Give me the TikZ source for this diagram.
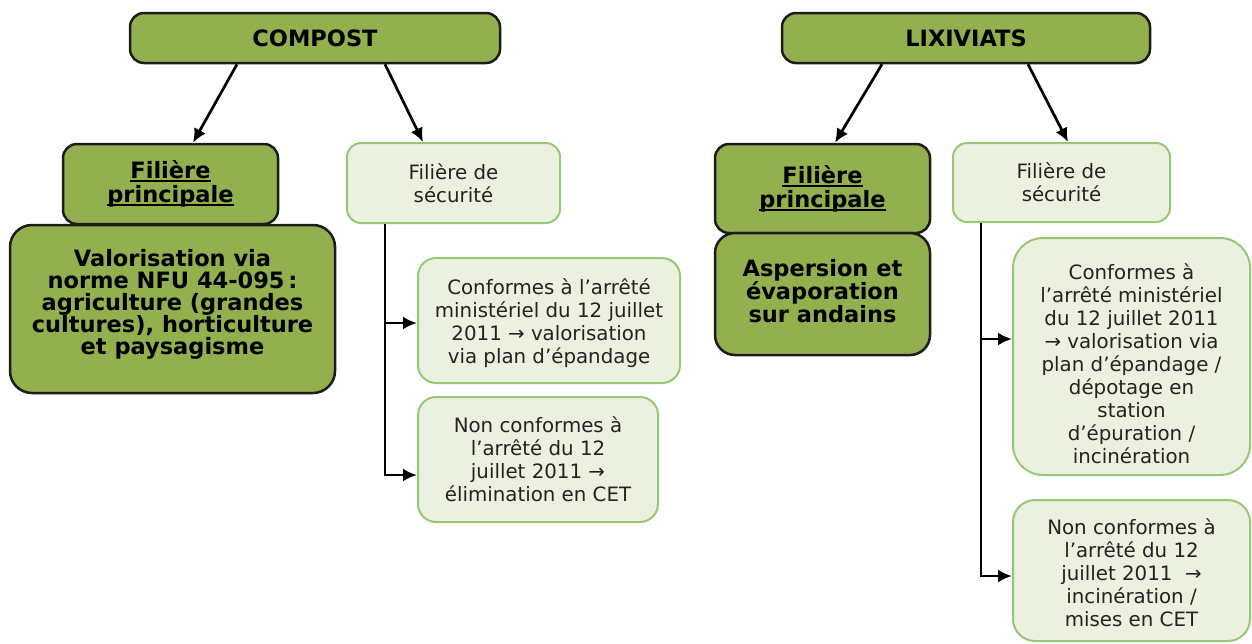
\documentclass[tikz,border=0pt]{standalone}
\usepackage{fontspec}
\setmainfont{DejaVu Sans}
\usetikzlibrary{arrows.meta,calc}
\definecolor{dkgreen}{RGB}{146,176,78}
\definecolor{ltfill}{RGB}{235,241,222}
\definecolor{ltborder}{RGB}{150,200,120}
\definecolor{dkborder}{RGB}{28,28,28}
\definecolor{txtgray}{RGB}{35,35,35}
\newcommand{\thickul}[1]{\setbox0\hbox{#1}\leavevmode\rlap{\rule[-3.8pt]{\wd0}{2pt}}\box0}
\tikzset{
 darkbox/.style={draw=dkborder, line width=2.5pt, fill=dkgreen, rounded corners=14pt, align=center, inner sep=0pt, font=\fontsize{22.5}{23}\selectfont\bfseries},
 lightbox/.style={draw=ltborder, line width=2pt, fill=ltfill, rounded corners=14pt, align=center, inner sep=0pt, font=\fontsize{19.8}{23}\selectfont, text=txtgray},
 conn/.style={line width=2.7pt, draw=black},
 arr/.style={conn, -{Latex[length=14pt,width=13pt]}},
}
\begin{document}
\begin{tikzpicture}[x=1pt,y=-1pt]
\useasboundingbox (0,0) rectangle (1252,643);
% COMPOST side
\node[darkbox, minimum width=370pt, minimum height=50pt] (compost) at (315,38) {COMPOST};
\node[darkbox, minimum width=215pt, minimum height=80pt] (fp1) at (170.5,184) {\thickul{Filière}\\[1pt]\thickul{principale}};
\node[darkbox, rounded corners=22pt, minimum width=325pt, minimum height=168pt] (val) at (172.5,309) {Valorisation via\\[-1pt]norme NFU 44-095\,:\\[-1pt]agriculture (grandes\\[-1pt]cultures), horticulture\\[-1pt]et paysagisme\\[-9pt]};
\node[lightbox, minimum width=213pt, minimum height=80pt] (fs1) at (453.5,183) {Filière de\\sécurité};
\node[lightbox, rounded corners=18pt, minimum width=262pt, minimum height=125pt] (c1) at (549,320.5) {\mbox{}\\[-1pt]Conformes à l’arrêté\\ministériel du 12 juillet\\2011 → valorisation\\via plan d’épandage};
\node[lightbox, rounded corners=18pt, minimum width=240pt, minimum height=125pt] (n1) at (538,459.5) {Non conformes à\\l’arrêté du 12\\juillet 2011 →\\élimination en CET};
% LIXIVIATS side
\node[darkbox, minimum width=368pt, minimum height=50pt] (lix) at (966,38) {LIXIVIATS};
\node[darkbox, minimum width=215pt, minimum height=89pt] (fp2) at (822.5,188.5) {\thickul{Filière}\\[1pt]\thickul{principale}};
\node[darkbox, rounded corners=20pt, minimum width=215pt, minimum height=122pt] (asp) at (822.5,294) {Aspersion et\\évaporation\\sur andains\\[-17pt]};
\node[lightbox, minimum width=217pt, minimum height=79pt] (fs2) at (1061.5,182.5) {Filière de\\sécurité};
\node[lightbox, rounded corners=30pt, minimum width=237pt, minimum height=237pt] (c2) at (1131.5,356.5) {\mbox{}\\[7pt]Conformes à\\l’arrêté ministériel\\du 12 juillet 2011\\→ valorisation via\\plan d’épandage /\\dépotage en\\station\\d’épuration /\\incinération};
\node[lightbox, rounded corners=22pt, minimum width=237pt, minimum height=141pt] (n2) at (1131.5,570.5) {\mbox{}\\[-3pt]Non conformes à\\l’arrêté du 12\\juillet 2011 \ →\\incinération /\\mises en CET};
% connectors
\draw[arr] ([xshift=-78pt]compost.south) -- ([xshift=22.5pt]fp1.north);
\draw[arr] ([xshift=70pt]compost.south) -- ([xshift=-30.5pt]fs1.north);
\draw[arr] ([xshift=-84pt]lix.south) -- ([xshift=12.5pt]fp2.north);
\draw[arr] ([xshift=62pt]lix.south) -- ([xshift=6.5pt]fs2.north);
\coordinate (t1) at (385,475);
\coordinate (a1) at (385,323);
\draw[arr] (fs1.south -| t1) -- (t1) -- (t1 -| n1.west);
\draw[arr] (a1) -- (a1 -| c1.west);
\coordinate (t2) at (981,576);
\coordinate (a2) at (981,339);
\draw[arr] (fs2.south -| t2) -- (t2) -- (t2 -| n2.west);
\draw[arr] (a2) -- (a2 -| c2.west);
\end{tikzpicture}
\end{document}
